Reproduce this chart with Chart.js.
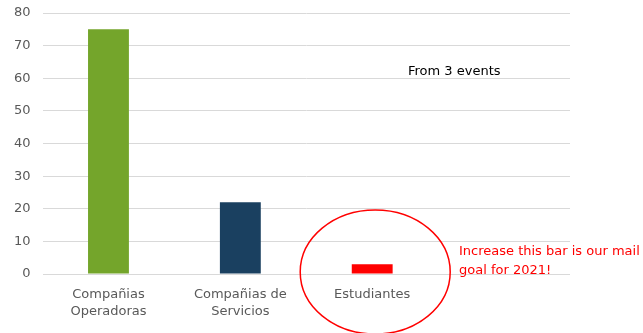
<!DOCTYPE html>
<html>
<head>
<meta charset="utf-8">
<script src="https://cdn.jsdelivr.net/npm/chart.js@4"></script>
<style>
  html, body { margin: 0; padding: 0; background: #fff; }
  #wrap { width: 643px; height: 333px; }
</style>
</head>
<body>
<div id="wrap"><canvas id="chart"></canvas></div>
<script>
// categories (4th slot is empty in the original sheet)
const categories = [['Compañias', 'Operadoras'], ['Compañias de', 'Servicios'], 'Estudiantes', ''];
const values = [75, 22, 3, null];
const barColors = ['#74a52b', '#1a4060', '#ff0000', '#ffffff'];
const yTicks = [0, 10, 20, 30, 40, 50, 60, 70, 80];

const noteText = 'From 3 events';
const goalLines = ['Increase this bar is our mail', 'goal for 2021!'];

const fontFamily = '"DejaVu Sans", Verdana, sans-serif';

// draws the circle round the students bar and the notes
const notes = {
  id: 'notes',
  afterDraw(chart) {
    const ctx = chart.ctx;
    const x = chart.scales.x;
    const y = chart.scales.y;
    ctx.save();

    // note in the upper right
    ctx.fillStyle = '#000';
    ctx.font = '13px ' + fontFamily;
    ctx.textBaseline = 'middle';
    ctx.fillText(noteText, 408, y.getPixelForValue(62));

    // ellipse round Estudiantes
    const cx = x.getPixelForValue(2) + 3;
    const cy = y.getPixelForValue(0) - 2;
    ctx.strokeStyle = '#ff0000';
    ctx.lineWidth = 1.5;
    ctx.beginPath();
    ctx.ellipse(cx, cy, 75, 62, 0, 0, Math.PI * 2);
    ctx.stroke();

    // red goal text
    ctx.fillStyle = '#ff0000';
    ctx.font = '13px ' + fontFamily;
    ctx.textBaseline = 'alphabetic';
    ctx.fillText(goalLines[0], 459, 255);
    ctx.fillText(goalLines[1], 459, 274);
    ctx.restore();
  }
};

new Chart(document.getElementById('chart'), {
  type: 'bar',
  data: {
    labels: categories,
    datasets: [{
      data: values,
      backgroundColor: barColors,
      borderWidth: 0,
      barPercentage: 0.31,
      categoryPercentage: 1
    }]
  },
  options: {
    responsive: true,
    maintainAspectRatio: false,
    animation: false,
    layout: { padding: { top: 13, right: 73, bottom: 0, left: 2 } },
    plugins: { legend: { display: false }, tooltip: { enabled: false } },
    scales: {
      x: {
        grid: { display: false },
        border: { display: false },
        ticks: { color: '#595959', font: { family: fontFamily, size: 13, lineHeight: 1.3 }, maxRotation: 0, padding: 4 },
        afterFit(scale) { scale.height = 59; }
      },
      y: {
        min: 0,
        max: 80,
        afterBuildTicks(axis) { axis.ticks = yTicks.map(v => ({ value: v })); },
        afterFit(scale) { scale.paddingTop = 0; scale.paddingBottom = 0; },
        grid: { color: '#d9d9d9', drawTicks: false },
        border: { display: false },
        ticks: { color: '#595959', font: { family: fontFamily, size: 13 }, padding: 12 }
      }
    }
  },
  plugins: [notes]
});
</script>
</body>
</html>
